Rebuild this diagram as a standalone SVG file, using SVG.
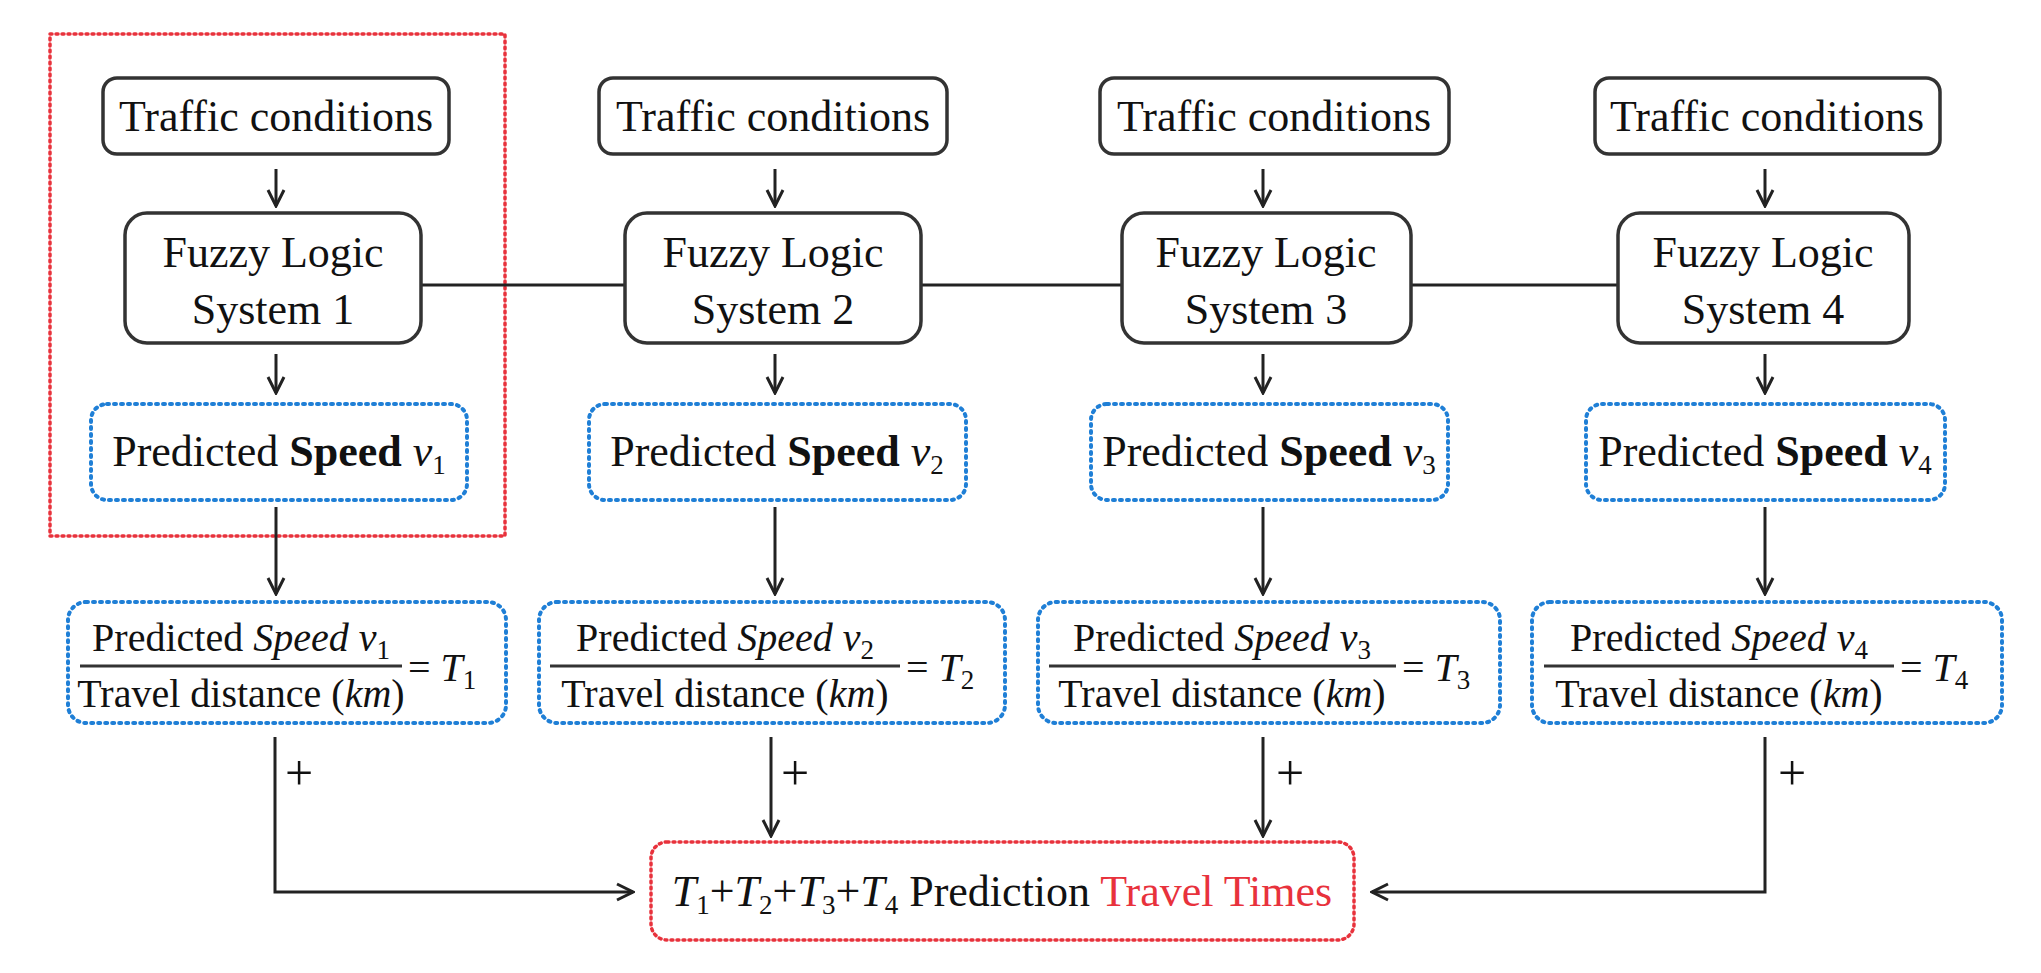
<svg xmlns="http://www.w3.org/2000/svg" width="2041" height="973" viewBox="0 0 2041 973">
<style>
text{font-family:"Liberation Serif","Times New Roman",serif;fill:#111}
.t{font-size:44px;text-anchor:middle}
.f{font-size:40px;text-anchor:middle}
.box{fill:#fff;stroke:#333;stroke-width:3.5}
.blue{fill:none;stroke:#1f7fd6;stroke-width:4;stroke-dasharray:2 5;stroke-linecap:round}
.red{fill:none;stroke:#e8323c;stroke-width:3.5;stroke-dasharray:2 4;stroke-linecap:round}
.ln{fill:none;stroke:#222;stroke-width:3}
.i{font-style:italic}
.b{font-weight:bold}
.s{font-size:27px}
.p{font-size:50px;text-anchor:middle}
</style>
<defs>
<marker id="a" viewBox="0 0 20 20" refX="18" refY="10" markerWidth="20" markerHeight="20" markerUnits="userSpaceOnUse" orient="auto">
<path d="M2 2 L18 10 L2 18" fill="none" stroke="#222" stroke-width="3"/>
</marker>
</defs>
<rect x="50" y="34" width="455" height="502" class="red"/>
<g id="connectors">
<line x1="421" y1="285" x2="625" y2="285" class="ln"/>
<line x1="921" y1="285" x2="1122" y2="285" class="ln"/>
<line x1="1411" y1="285" x2="1618" y2="285" class="ln"/>
<line x1="276" y1="169" x2="276" y2="206" class="ln" marker-end="url(#a)"/>
<line x1="775" y1="169" x2="775" y2="206" class="ln" marker-end="url(#a)"/>
<line x1="1263" y1="169" x2="1263" y2="206" class="ln" marker-end="url(#a)"/>
<line x1="1765" y1="169" x2="1765" y2="206" class="ln" marker-end="url(#a)"/>
<line x1="276" y1="354" x2="276" y2="393" class="ln" marker-end="url(#a)"/>
<line x1="775" y1="354" x2="775" y2="393" class="ln" marker-end="url(#a)"/>
<line x1="1263" y1="354" x2="1263" y2="393" class="ln" marker-end="url(#a)"/>
<line x1="1765" y1="354" x2="1765" y2="393" class="ln" marker-end="url(#a)"/>
<line x1="276" y1="507" x2="276" y2="594" class="ln" marker-end="url(#a)"/>
<line x1="775" y1="507" x2="775" y2="594" class="ln" marker-end="url(#a)"/>
<line x1="1263" y1="507" x2="1263" y2="594" class="ln" marker-end="url(#a)"/>
<line x1="1765" y1="507" x2="1765" y2="594" class="ln" marker-end="url(#a)"/>
<polyline points="275,737 275,892 633,892" class="ln" marker-end="url(#a)"/>
<line x1="771" y1="737" x2="771" y2="836" class="ln" marker-end="url(#a)"/>
<line x1="1263" y1="737" x2="1263" y2="836" class="ln" marker-end="url(#a)"/>
<polyline points="1765,737 1765,892 1372,892" class="ln" marker-end="url(#a)"/>
<text x="299" y="790" class="p">+</text>
<text x="795" y="790" class="p">+</text>
<text x="1290" y="790" class="p">+</text>
<text x="1792" y="790" class="p">+</text>
</g>
<g id="traffic1"><rect x="103" y="78" width="346" height="76" rx="14" class="box"/><text x="276" y="131" class="t">Traffic conditions</text></g>
<g id="traffic2"><rect x="599" y="78" width="348" height="76" rx="14" class="box"/><text x="773" y="131" class="t">Traffic conditions</text></g>
<g id="traffic3"><rect x="1100" y="78" width="349" height="76" rx="14" class="box"/><text x="1274" y="131" class="t">Traffic conditions</text></g>
<g id="traffic4"><rect x="1595" y="78" width="345" height="76" rx="14" class="box"/><text x="1767" y="131" class="t">Traffic conditions</text></g>
<g id="fls1"><rect x="125" y="213" width="296" height="130" rx="22" class="box"/><text x="273" y="267" class="t">Fuzzy Logic</text><text x="273" y="324" class="t">System 1</text></g>
<g id="fls2"><rect x="625" y="213" width="296" height="130" rx="22" class="box"/><text x="773" y="267" class="t">Fuzzy Logic</text><text x="773" y="324" class="t">System 2</text></g>
<g id="fls3"><rect x="1122" y="213" width="289" height="130" rx="22" class="box"/><text x="1266" y="267" class="t">Fuzzy Logic</text><text x="1266" y="324" class="t">System 3</text></g>
<g id="fls4"><rect x="1618" y="213" width="291" height="130" rx="22" class="box"/><text x="1763" y="267" class="t">Fuzzy Logic</text><text x="1763" y="324" class="t">System 4</text></g>
<g id="speed1"><rect x="91" y="404" width="376" height="96" rx="16" class="blue"/><text x="279" y="466" class="t">Predicted <tspan class="b">Speed</tspan> <tspan class="i">v</tspan><tspan class="s" dy="8">1</tspan></text></g>
<g id="speed2"><rect x="589" y="404" width="377" height="96" rx="16" class="blue"/><text x="777" y="466" class="t">Predicted <tspan class="b">Speed</tspan> <tspan class="i">v</tspan><tspan class="s" dy="8">2</tspan></text></g>
<g id="speed3"><rect x="1091" y="404" width="357" height="96" rx="16" class="blue"/><text x="1269" y="466" class="t">Predicted <tspan class="b">Speed</tspan> <tspan class="i">v</tspan><tspan class="s" dy="8">3</tspan></text></g>
<g id="speed4"><rect x="1586" y="404" width="359" height="96" rx="16" class="blue"/><text x="1765" y="466" class="t">Predicted <tspan class="b">Speed</tspan> <tspan class="i">v</tspan><tspan class="s" dy="8">4</tspan></text></g>
<g id="frac1"><rect x="68" y="602" width="438" height="121" rx="18" class="blue"/><line x1="80" y1="666" x2="402" y2="666" stroke="#333" stroke-width="3"/><text x="241" y="651" class="f">Predicted <tspan class="i">Speed v</tspan><tspan class="s" dy="8">1</tspan></text><text x="241" y="707" class="f">Travel distance (<tspan class="i">km</tspan>)</text><text x="408" y="681" font-size="40px">= <tspan class="i">T</tspan><tspan class="s" dy="8">1</tspan></text></g>
<g id="frac2"><rect x="539" y="602" width="466" height="121" rx="18" class="blue"/><line x1="550" y1="666" x2="900" y2="666" stroke="#333" stroke-width="3"/><text x="725" y="651" class="f">Predicted <tspan class="i">Speed v</tspan><tspan class="s" dy="8">2</tspan></text><text x="725" y="707" class="f">Travel distance (<tspan class="i">km</tspan>)</text><text x="906" y="681" font-size="40px">= <tspan class="i">T</tspan><tspan class="s" dy="8">2</tspan></text></g>
<g id="frac3"><rect x="1038" y="602" width="462" height="121" rx="18" class="blue"/><line x1="1049" y1="666" x2="1396" y2="666" stroke="#333" stroke-width="3"/><text x="1222" y="651" class="f">Predicted <tspan class="i">Speed v</tspan><tspan class="s" dy="8">3</tspan></text><text x="1222" y="707" class="f">Travel distance (<tspan class="i">km</tspan>)</text><text x="1402" y="681" font-size="40px">= <tspan class="i">T</tspan><tspan class="s" dy="8">3</tspan></text></g>
<g id="frac4"><rect x="1532" y="602" width="470" height="121" rx="18" class="blue"/><line x1="1544" y1="666" x2="1894" y2="666" stroke="#333" stroke-width="3"/><text x="1719" y="651" class="f">Predicted <tspan class="i">Speed v</tspan><tspan class="s" dy="8">4</tspan></text><text x="1719" y="707" class="f">Travel distance (<tspan class="i">km</tspan>)</text><text x="1900" y="681" font-size="40px">= <tspan class="i">T</tspan><tspan class="s" dy="8">4</tspan></text></g>
<g id="total"><rect x="651" y="842" width="703" height="98" rx="16" class="red"/><text x="1002" y="906" class="t" font-size="46px"><tspan class="i">T</tspan><tspan class="s" dy="8">1</tspan><tspan dy="-8">+</tspan><tspan class="i">T</tspan><tspan class="s" dy="8">2</tspan><tspan dy="-8">+</tspan><tspan class="i">T</tspan><tspan class="s" dy="8">3</tspan><tspan dy="-8">+</tspan><tspan class="i">T</tspan><tspan class="s" dy="8">4</tspan><tspan dy="-8"> Prediction </tspan><tspan fill="#e8323c">Travel Times</tspan></text></g>
</svg>
